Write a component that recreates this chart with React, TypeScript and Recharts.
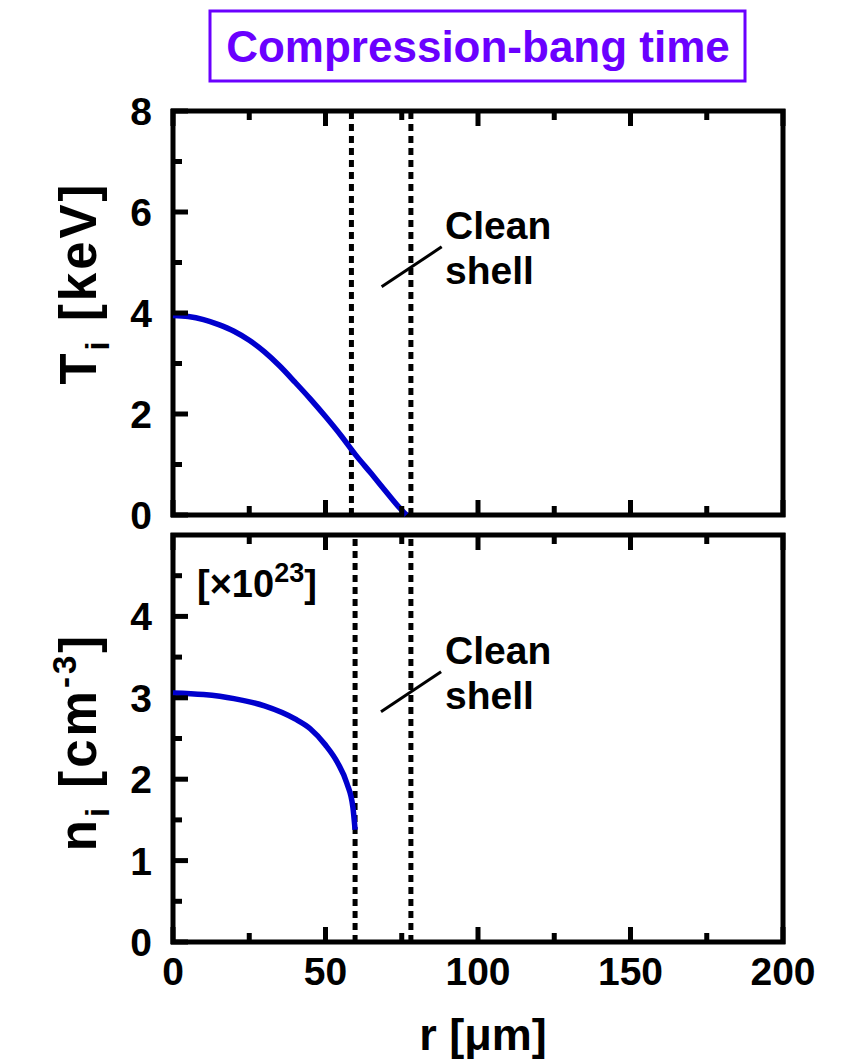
import { LineChart, Line, XAxis, YAxis, ReferenceLine, ReferenceArea } from 'recharts';

// ion temperature profile [keV] vs radius [um]
const rTemp = [0, 5, 10, 15, 20, 25, 30, 35, 40, 45, 50, 55, 60, 65, 70, 74, 76.5];
const tempValues = [3.95, 3.93, 3.87, 3.77, 3.64, 3.46, 3.23, 2.95, 2.63, 2.3, 1.95, 1.58, 1.18, 0.82, 0.45, 0.16, 0];

// ion density profile [x1e23 cm^-3]
const rDens = [0, 10, 20, 30, 40, 45, 50, 54, 57, 59, 59.7];
const densValues = [3.06, 3.04, 2.99, 2.9, 2.74, 2.62, 2.42, 2.2, 1.95, 1.65, 1.38];

const xTicks = [0, 25, 50, 75, 100, 125, 150, 175, 200];
const xLabels = [0, 50, 100, 150, 200];
const tTicks = [0, 1, 2, 3, 4, 5, 6, 7, 8];
const tLabels = [0, 2, 4, 6, 8];
const nTicks = [0, 0.5, 1, 1.5, 2, 2.5, 3, 3.5, 4, 4.5];
const nLabels = [0, 1, 2, 3, 4];

// vertical markers (fuel / clean shell boundaries)
const tempBounds = [58.5, 78];
const densBounds = [59.7, 78];

const tempData = rTemp.map((r, i) => ({ r, v: tempValues[i] }));
const densData = rDens.map((r, i) => ({ r, v: densValues[i] }));

const FONT = '"Liberation Sans", Arial, sans-serif';
const MAJOR = 15;
const MINOR = 9;

// ticks point inward on every side; labels only on left / bottom
function makeTick(side: 'bottom' | 'top' | 'left' | 'right', majors: number[], showLabels: boolean) {
  return (props: any) => {
    const { x, y, payload } = props;
    const v = payload.value;
    const major = majors.includes(v);
    const len = major ? MAJOR : MINOR;
    let c;
    if (side === 'bottom') c = { x1: x, x2: x, y1: y + 2, y2: y - len };
    else if (side === 'top') c = { x1: x, x2: x, y1: y - 2, y2: y + len };
    else if (side === 'left') c = { x1: x - 2, x2: x + len, y1: y, y2: y };
    else c = { x1: x + 2, x2: x - len, y1: y, y2: y };
    const label = showLabels && major;
    return (
      <g>
        <line {...c} stroke="#000" strokeWidth={5} />
        {label && side === 'bottom' && (
          <text x={x} y={y + 43} textAnchor="middle" fontFamily={FONT} fontWeight="bold" fontSize={39} fill="#000">
            {v}
          </text>
        )}
        {label && side === 'left' && (
          <text x={x - 21} y={y + 14} textAnchor="end" fontFamily={FONT} fontWeight="bold" fontSize={39} fill="#000">
            {v}
          </text>
        )}
      </g>
    );
  };
}

const axisCommon = { tickSize: 0, tickMargin: 0, axisLine: false, tickLine: false, interval: 0 as const };

export default function App() {
  return (
    <div style={{ position: 'absolute', left: 0, top: 0, width: 846, height: 1063, background: '#fff' }}>
      <div style={{ position: 'absolute', left: 0, top: 0 }}>
        <LineChart width={846} height={560} data={tempData} margin={{ top: 110, right: 62, bottom: 44, left: 172 }}>
          <XAxis xAxisId="b" dataKey="r" type="number" domain={[0, 200]} ticks={xTicks} height={1} {...axisCommon}
            tick={makeTick('bottom', xLabels, false)} />
          <XAxis xAxisId="t" orientation="top" dataKey="r" type="number" domain={[0, 200]} ticks={xTicks} height={1} {...axisCommon}
            tick={makeTick('top', xLabels, false)} />
          <YAxis yAxisId="l" type="number" domain={[0, 8]} ticks={tTicks} width={1} {...axisCommon}
            tick={makeTick('left', tLabels, true)} />
          <YAxis yAxisId="r" orientation="right" type="number" domain={[0, 8]} ticks={tTicks} width={1} {...axisCommon}
            tick={makeTick('right', tLabels, false)} />
          {tempBounds.map((b) => (
            <ReferenceLine key={b} x={b} xAxisId="b" yAxisId="l" stroke="#000" strokeWidth={5} strokeDasharray="7 5" />
          ))}
          <ReferenceLine xAxisId="b" yAxisId="l" segment={[{ x: 68.4, y: 4.52 }, { x: 88.1, y: 5.31 }]} stroke="#000" strokeWidth={3} />
          <Line xAxisId="b" yAxisId="l" type="monotone" dataKey="v" stroke="#0000cd" strokeWidth={5.5} dot={false} isAnimationActive={false} />
          <ReferenceArea xAxisId="b" yAxisId="l" x1={0} x2={200} y1={0} y2={8} fill="none" fillOpacity={0} stroke="#000" strokeWidth={5} />
        </LineChart>
      </div>
      <div style={{ position: 'absolute', left: 0, top: 520 }}>
        <LineChart width={846} height={543} data={densData} margin={{ top: 14, right: 62, bottom: 120, left: 172 }}>
          <XAxis xAxisId="b" dataKey="r" type="number" domain={[0, 200]} ticks={xTicks} height={1} {...axisCommon}
            tick={makeTick('bottom', xLabels, true)} />
          <XAxis xAxisId="t" orientation="top" dataKey="r" type="number" domain={[0, 200]} ticks={xTicks} height={1} {...axisCommon}
            tick={makeTick('top', xLabels, false)} />
          <YAxis yAxisId="l" type="number" domain={[0, 5]} ticks={nTicks} width={1} {...axisCommon}
            tick={makeTick('left', nLabels, true)} />
          <YAxis yAxisId="r" orientation="right" type="number" domain={[0, 5]} ticks={nTicks} width={1} {...axisCommon}
            tick={makeTick('right', nLabels, false)} />
          {densBounds.map((b) => (
            <ReferenceLine key={b} x={b} xAxisId="b" yAxisId="l" stroke="#000" strokeWidth={5} strokeDasharray="7 5" />
          ))}
          <ReferenceLine xAxisId="b" yAxisId="l" segment={[{ x: 68.2, y: 2.83 }, { x: 87.9, y: 3.32 }]} stroke="#000" strokeWidth={3} />
          <Line xAxisId="b" yAxisId="l" type="monotone" dataKey="v" stroke="#0000cd" strokeWidth={5.5} dot={false} isAnimationActive={false} />
          <ReferenceArea xAxisId="b" yAxisId="l" x1={0} x2={200} y1={0} y2={5} fill="none" fillOpacity={0} stroke="#000" strokeWidth={5} />
        </LineChart>
      </div>
      <svg width={846} height={1063} style={{ position: 'absolute', left: 0, top: 0, pointerEvents: 'none' }}
        fontFamily={FONT} fontWeight="bold">
        <rect x={210} y={11} width={535} height={70} fill="none" stroke="#6a00ff" strokeWidth={3} />
        <text x={478} y={62} textAnchor="middle" fontSize={44} fill="#6a00ff">Compression-bang time</text>

        <text x={445} y={239} fontSize={39}>Clean</text>
        <text x={445} y={284} fontSize={39}>shell</text>
        <text x={445} y={664} fontSize={39}>Clean</text>
        <text x={445} y={709} fontSize={39}>shell</text>

        <text x={197} y={597} fontSize={38}>
          [×10<tspan fontSize={27} dy={-15}>23</tspan><tspan dy={15}>]</tspan>
        </text>

        <text transform="translate(96,283) rotate(-90)" textAnchor="middle" fontSize={51} letterSpacing={3}>
          T<tspan fontSize={33} dy={13}>i</tspan><tspan dy={-13}> [keV]</tspan>
        </text>
        <text transform="translate(96,742) rotate(-90)" textAnchor="middle" fontSize={51} letterSpacing={3}>
          n<tspan fontSize={33} dy={13}>i</tspan><tspan dy={-13}> [cm</tspan>
          <tspan fontSize={33} dy={-20}>-3</tspan><tspan dy={20}>]</tspan>
        </text>

        <text x={483} y={1050} textAnchor="middle" fontSize={45}>r [μm]</text>
      </svg>
    </div>
  );
}
